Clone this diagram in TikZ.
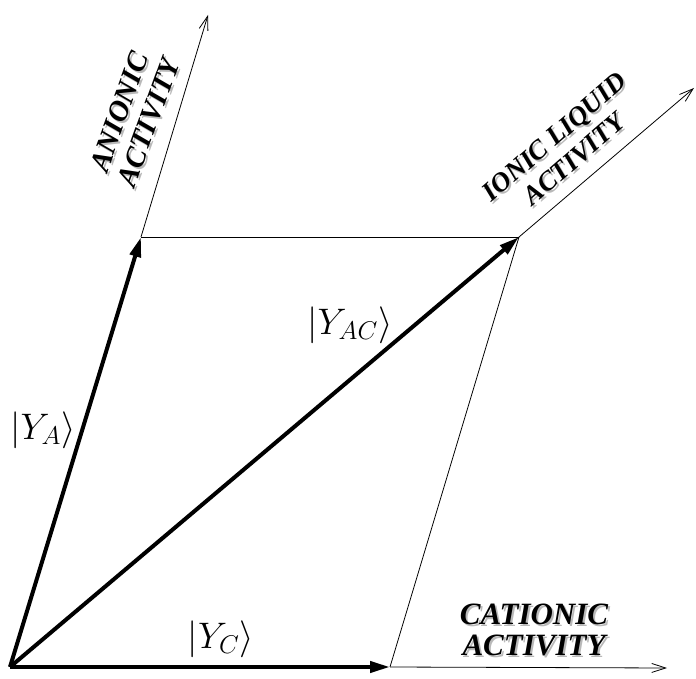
\documentclass[tikz,border=0pt]{standalone}
\usepackage{fontspec}
\setmainfont{Liberation Serif}
\usetikzlibrary{arrows.meta}
\begin{document}
\begin{tikzpicture}[x=1pt,y=1pt,
  thickvec/.style={line width=4pt,-{Triangle[length=20pt,width=11pt]}},
  axisline/.style={line width=0.8pt,-{Straight Barb[length=14pt,width=9pt]}},
  edge/.style={line width=0.8pt},
  ketlabel/.style={font=\fontsize{20}{24}\selectfont,inner sep=0pt,scale=1.78},
  axlabel/.style={font=\bfseries\itshape,align=center,inner sep=0pt}]
\useasboundingbox (0,0) rectangle (696,678);
\coordinate (O) at (10,11);
\coordinate (A) at (141,441);
\coordinate (C) at (390,11);
\coordinate (P) at (519,441);
\coordinate (At) at (208,663);
\coordinate (Pt) at (694,590);
\coordinate (Ct) at (667,10);
% thin lines
\draw[edge] (A) -- (P);
\draw[edge] (C) -- (P);
\draw[axisline] (A) -- (At);
\draw[axisline] (P) -- (Pt);
\draw[axisline] (C) -- (Ct);
% thick vectors
\draw[thickvec] (O) -- (A);
\draw[thickvec] (O) -- (P);
\draw[thickvec] (O) -- (C);
% ket labels
\node[ketlabel] (ya) at (43,248) {$\big|Y_A\big\rangle$};
\node[ketlabel] (yac) at (350,353) {$\big|Y_{AC}\big\rangle$};
\node[ketlabel] (yc) at (221,39) {$\big|Y_C\big\rangle$};
% axis labels with shadow
\node[axlabel,font=\fontsize{29}{31}\selectfont\bfseries\itshape,text=gray!55,rotate=70] at (136,559) {ANIONIC\\ACTIVITY};
\node[axlabel,font=\fontsize{29}{31}\selectfont\bfseries\itshape,rotate=70] (la) at (134,561) {ANIONIC\\ACTIVITY};
\node[axlabel,font=\fontsize{27}{30}\selectfont\bfseries\itshape,text=gray!55,rotate=41] at (566,528) {IONIC LIQUID\\ACTIVITY};
\node[axlabel,font=\fontsize{27}{30}\selectfont\bfseries\itshape,rotate=41] (li) at (564,530) {IONIC LIQUID\\ACTIVITY};
\node[axlabel,font=\fontsize{31}{31}\selectfont\bfseries\itshape,text=gray!55] at (536,46) {CATIONIC\\ACTIVITY};
\node[axlabel,font=\fontsize{31}{31}\selectfont\bfseries\itshape] (lc) at (534,48) {CATIONIC\\ACTIVITY};
\end{tikzpicture}
\end{document}
